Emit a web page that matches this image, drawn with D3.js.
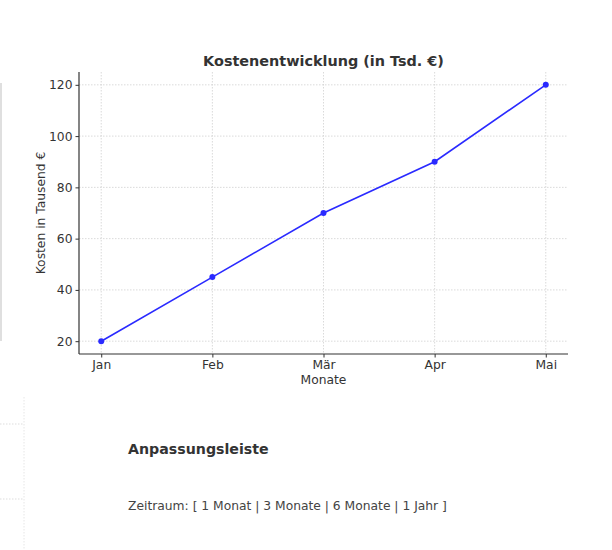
<!DOCTYPE html>
<html>
<head>
<meta charset="utf-8">
<script src="https://cdn.jsdelivr.net/npm/d3@7"></script>
<style>
  body { margin: 0; background: #fff; }
  svg { display: block; font-family: "DejaVu Sans", sans-serif; }
</style>
</head>
<body>
<div id="chart"></div>
<script>
const months = ["Jan", "Feb", "Mär", "Apr", "Mai"];
const costs = [20, 45, 70, 90, 120];
const yTicks = [20, 40, 60, 80, 100, 120];
const periods = ["1 Monat", "3 Monate", "6 Monate", "1 Jahr"];

const W = 612, H = 550;
// plot area
const margin = { top: 72, right: 44, bottom: 196, left: 79 };
const width = W - margin.left - margin.right;
const height = H - margin.top - margin.bottom;
const fs = "12.3px";

const svg = d3.select("#chart")
  .append("svg")
  .attr("width", W)
  .attr("height", H);

// leftovers of neighbouring panels in the screenshot
svg.append("line")
  .attr("x1", 1).attr("x2", 1).attr("y1", 83).attr("y2", 341)
  .style("stroke", "#d4d4d4").style("stroke-width", 1.5);
[424, 499].forEach(yy => {
  svg.append("line")
    .attr("x1", 0).attr("x2", 24).attr("y1", yy).attr("y2", yy)
    .style("stroke", "#ddd").style("stroke-dasharray", "1.5,1.5");
});
svg.append("line")
  .attr("x1", 24).attr("x2", 24).attr("y1", 397).attr("y2", 550)
  .style("stroke", "#e6e6e6").style("stroke-dasharray", "1.5,1.5");

const g = svg.append("g")
  .attr("transform", `translate(${margin.left}, ${margin.top})`);

// Scales (matplotlib-like 5% margins)
const x = d3.scaleLinear().domain([-0.2, months.length - 1 + 0.2]).range([0, width]);
const y = d3.scaleLinear().domain([15, 125]).range([height, 0]);

// Grid
g.append("g")
  .selectAll("line")
  .data(yTicks)
  .enter()
  .append("line")
  .attr("x1", 0).attr("x2", width)
  .attr("y1", d => y(d)).attr("y2", d => y(d))
  .style("stroke", "#d0d0d0").style("stroke-width", 0.8)
  .style("stroke-dasharray", "1.5,1.5");

g.append("g")
  .selectAll("line")
  .data(months)
  .enter()
  .append("line")
  .attr("x1", (d, i) => x(i)).attr("x2", (d, i) => x(i))
  .attr("y1", 0).attr("y2", height)
  .style("stroke", "#d0d0d0").style("stroke-width", 0.8)
  .style("stroke-dasharray", "1.5,1.5");

// Axes
const xAxis = g.append("g")
  .attr("transform", `translate(0, ${height})`)
  .call(d3.axisBottom(x).tickValues(d3.range(months.length)).tickFormat(i => months[i]).tickSize(3.5).tickPadding(3));

const yAxis = g.append("g")
  .call(d3.axisLeft(y).tickValues(yTicks).tickSize(3.5).tickPadding(3));

[xAxis, yAxis].forEach(a => {
  a.select(".domain").style("stroke", "#333").style("stroke-width", 1.2);
  a.selectAll(".tick line").style("stroke", "#333").style("stroke-width", 1);
  a.selectAll(".tick text")
    .style("font-family", "DejaVu Sans")
    .style("font-size", fs)
    .style("fill", "#333");
});
// remove outer tick end caps
xAxis.select(".domain").attr("d", `M0,0H${width}`);
yAxis.select(".domain").attr("d", `M0,0V${height}`);

// Line
const line = d3.line()
  .x((d, i) => x(i))
  .y(d => y(d));

g.append("path")
  .datum(costs)
  .attr("d", line)
  .style("fill", "none")
  .style("stroke", "#2a2aff")
  .style("stroke-width", 1.6);

g.selectAll(".dot")
  .data(costs)
  .enter()
  .append("circle")
  .attr("class", "dot")
  .attr("cx", (d, i) => x(i))
  .attr("cy", d => y(d))
  .attr("r", 3)
  .style("fill", "#2a2aff");

// Title
g.append("text")
  .attr("x", width / 2)
  .attr("y", -6)
  .attr("text-anchor", "middle")
  .style("font-size", "14.4px")
  .style("font-weight", "bold")
  .style("fill", "#333")
  .text("Kostenentwicklung (in Tsd. €)");

// x label
g.append("text")
  .attr("x", width / 2)
  .attr("y", height + 30)
  .attr("text-anchor", "middle")
  .style("font-size", fs)
  .style("fill", "#333")
  .text("Monate");

// y label
g.append("text")
  .attr("transform", "rotate(-90)")
  .attr("x", -(y(70)))
  .attr("y", -34)
  .attr("text-anchor", "middle")
  .style("font-size", fs)
  .style("fill", "#333")
  .text("Kosten in Tausend €");

// Adjustment bar
svg.append("text")
  .attr("x", 128)
  .attr("y", 454)
  .style("font-size", "14.2px")
  .style("font-weight", "bold")
  .style("fill", "#333")
  .text("Anpassungsleiste");

svg.append("text")
  .attr("x", 128)
  .attr("y", 510)
  .style("font-size", fs)
  .style("fill", "#444")
  .text("Zeitraum: [ " + periods.join(" | ") + " ]");
</script>
</body>
</html>
